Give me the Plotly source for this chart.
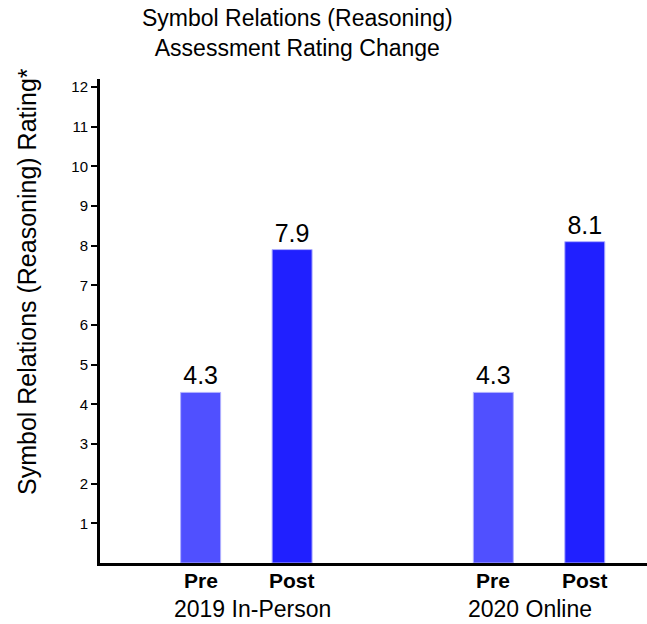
import plotly.graph_objects as go

# Ratings per session and phase
groups = ["2019 In-Person", "2020 Online"]
phases = ["Pre", "Post"]
ratings = [4.3, 7.9, 4.3, 8.1]
bar_pos = [1.1, 2.1, 4.3, 5.3]
group_pos = [1.67, 4.7]
pre_color = "#5050ff"
post_color = "#2020ff"

colors = [pre_color, post_color, pre_color, post_color]
phase_labels = phases * len(groups)

FONT = "Liberation Sans, Arial, sans-serif"

# plot area in pixels: x 100..647, y 79..563
PW, PH = 547, 484

fig = go.Figure()
fig.add_trace(go.Bar(
    x=bar_pos,
    y=ratings,
    width=0.437,
    marker=dict(color=colors, line=dict(color="#b0b0ff", width=1)),
    text=[f"{v:.1f}" for v in ratings],
    textposition="outside",
    textfont=dict(family=FONT, size=25, color="black"),
    cliponaxis=False,
    hoverinfo="skip",
))

# phase labels under each bar
for p, px in zip(phase_labels, bar_pos):
    fig.add_annotation(
        x=px, y=0, xref="x", yref="y", yshift=-17,
        text=f"<b>{p}</b>", showarrow=False,
        font=dict(family=FONT, size=21, color="black"),
        yanchor="middle",
    )

# session labels under each pair
for g, gx in zip(groups, group_pos):
    fig.add_annotation(
        x=gx, y=0, xref="x", yref="y", yshift=-46,
        text=g, showarrow=False,
        font=dict(family=FONT, size=23, color="black"),
        yanchor="middle",
    )

fig.add_annotation(
    x=(297 - 100) / PW, y=1 + (79 - 33) / PH, xref="paper", yref="paper",
    text="Symbol Relations (Reasoning)<br>Assessment Rating Change",
    showarrow=False, font=dict(family=FONT, size=23, color="black"),
    xanchor="center", yanchor="middle",
)

fig.add_annotation(
    x=-(100 - 27) / PW, y=(563 - 282) / PH, xref="paper", yref="paper",
    text="Symbol Relations (Reasoning) Rating*",
    textangle=-90, showarrow=False,
    font=dict(family=FONT, size=25, color="black"),
    xanchor="center", yanchor="middle",
)

fig.update_xaxes(
    range=[0, 5.98],
    showticklabels=False,
    showline=True, linecolor="black", linewidth=3,
    ticks="", showgrid=False, zeroline=False,
)
fig.update_yaxes(
    range=[0, 12.2],
    tickvals=list(range(1, 13)),
    tickfont=dict(family=FONT, size=15, color="black"),
    showline=True, linecolor="black", linewidth=3,
    ticks="outside", ticklen=6, tickwidth=1.5, tickcolor="black",
    showgrid=False, zeroline=False,
)

fig.update_layout(
    width=647, height=624,
    margin=dict(l=100, r=0, t=79, b=61),
    plot_bgcolor="white", paper_bgcolor="white",
    showlegend=False,
    font=dict(family=FONT),
)

fig.write_html("out.html")
